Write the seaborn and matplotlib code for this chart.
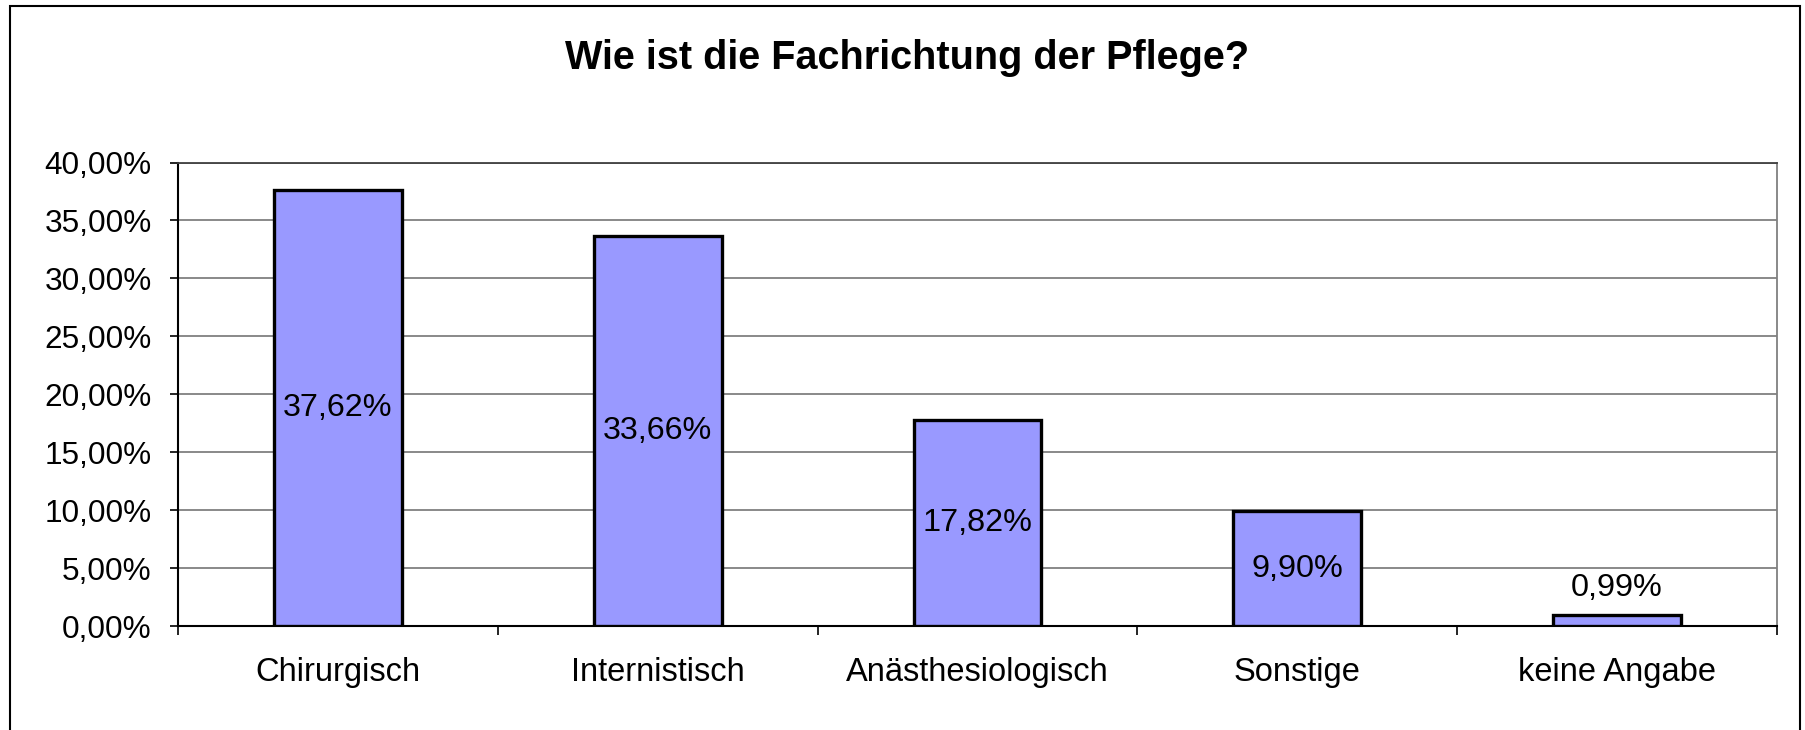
import matplotlib
matplotlib.use("Agg")
import matplotlib.pyplot as plt
import seaborn as sns
import pandas as pd
from matplotlib.patches import Rectangle
from matplotlib.ticker import FixedLocator

categories = ["Chirurgisch", "Internistisch", "Anästhesiologisch", "Sonstige", "keine Angabe"]
values = [37.62, 33.66, 17.82, 9.90, 0.99]
y_ticks = [0, 5, 10, 15, 20, 25, 30, 35, 40]
title = "Wie ist die Fachrichtung der Pflege?"

sns.set_theme(style="white")
plt.rcParams['font.family'] = ['Liberation Sans', 'DejaVu Sans']

df = pd.DataFrame({"cat": categories, "val": values})

fig = plt.figure(figsize=(18.06, 7.30), dpi=100)
ax = fig.add_axes([178/1806, 1 - 626/730, (1777-178)/1806, (626-162.5)/730])

sns.barplot(data=df, x="cat", y="val", ax=ax, color="#9999FF", saturation=1,
            edgecolor="black", linewidth=2.4, width=0.4, zorder=3)

ax.set_ylim(0, 40)
ax.set_xlim(-0.5, len(categories) - 0.5)
ax.set_yticks(y_ticks)
ax.set_yticklabels([f"{t:.2f}".replace(".", ",") + "%" for t in y_ticks])
ax.yaxis.grid(True, color="#808080", linewidth=1.3, zorder=0)
ax.xaxis.grid(False)
ax.set_xlabel("")
ax.set_ylabel("")

ax.tick_params(axis="y", which="major", direction="out", length=6, width=1.2,
               color="black", labelsize=22.7, pad=13, left=True)
ax.tick_params(axis="x", which="major", length=0, labelsize=23.5, pad=22.5)
ax.xaxis.set_minor_locator(FixedLocator([i + 0.5 for i in range(-1, len(categories))]))
ax.tick_params(axis="x", which="minor", direction="out", length=6.5, width=1.2,
               color="black", bottom=True)
for lab in ax.get_xticklabels() + ax.get_yticklabels():
    lab.set_color("black")

for side in ["left", "bottom"]:
    ax.spines[side].set_color("black")
    ax.spines[side].set_linewidth(1.5)
for side in ["top", "right"]:
    ax.spines[side].set_color("#808080")
    ax.spines[side].set_linewidth(1.3)
ax.spines["top"].set_color("#404040")

for i, v in enumerate(values):
    txt = f"{v:.2f}".replace(".", ",") + "%"
    if v < 3:
        ax.annotate(txt, xy=(i, v), xytext=(0, 8), textcoords="offset points",
                    ha="center", va="bottom", fontsize=23.3, color="black", zorder=5)
    else:
        ax.text(i, v / 2, txt, ha="center", va="center", fontsize=23.3,
                color="black", zorder=5)

fig.text(0.502, 1 - 58/730, title, ha="center", va="center", fontsize=28.5,
         fontweight="bold", color="black")

fig.patches.append(Rectangle((10/1806, -0.02), (1800-10)/1806, 1 - 6/730 + 0.02,
                             transform=fig.transFigure, fill=False,
                             edgecolor="black", linewidth=1.5))

fig.savefig("out.png", dpi=100, facecolor="white")
